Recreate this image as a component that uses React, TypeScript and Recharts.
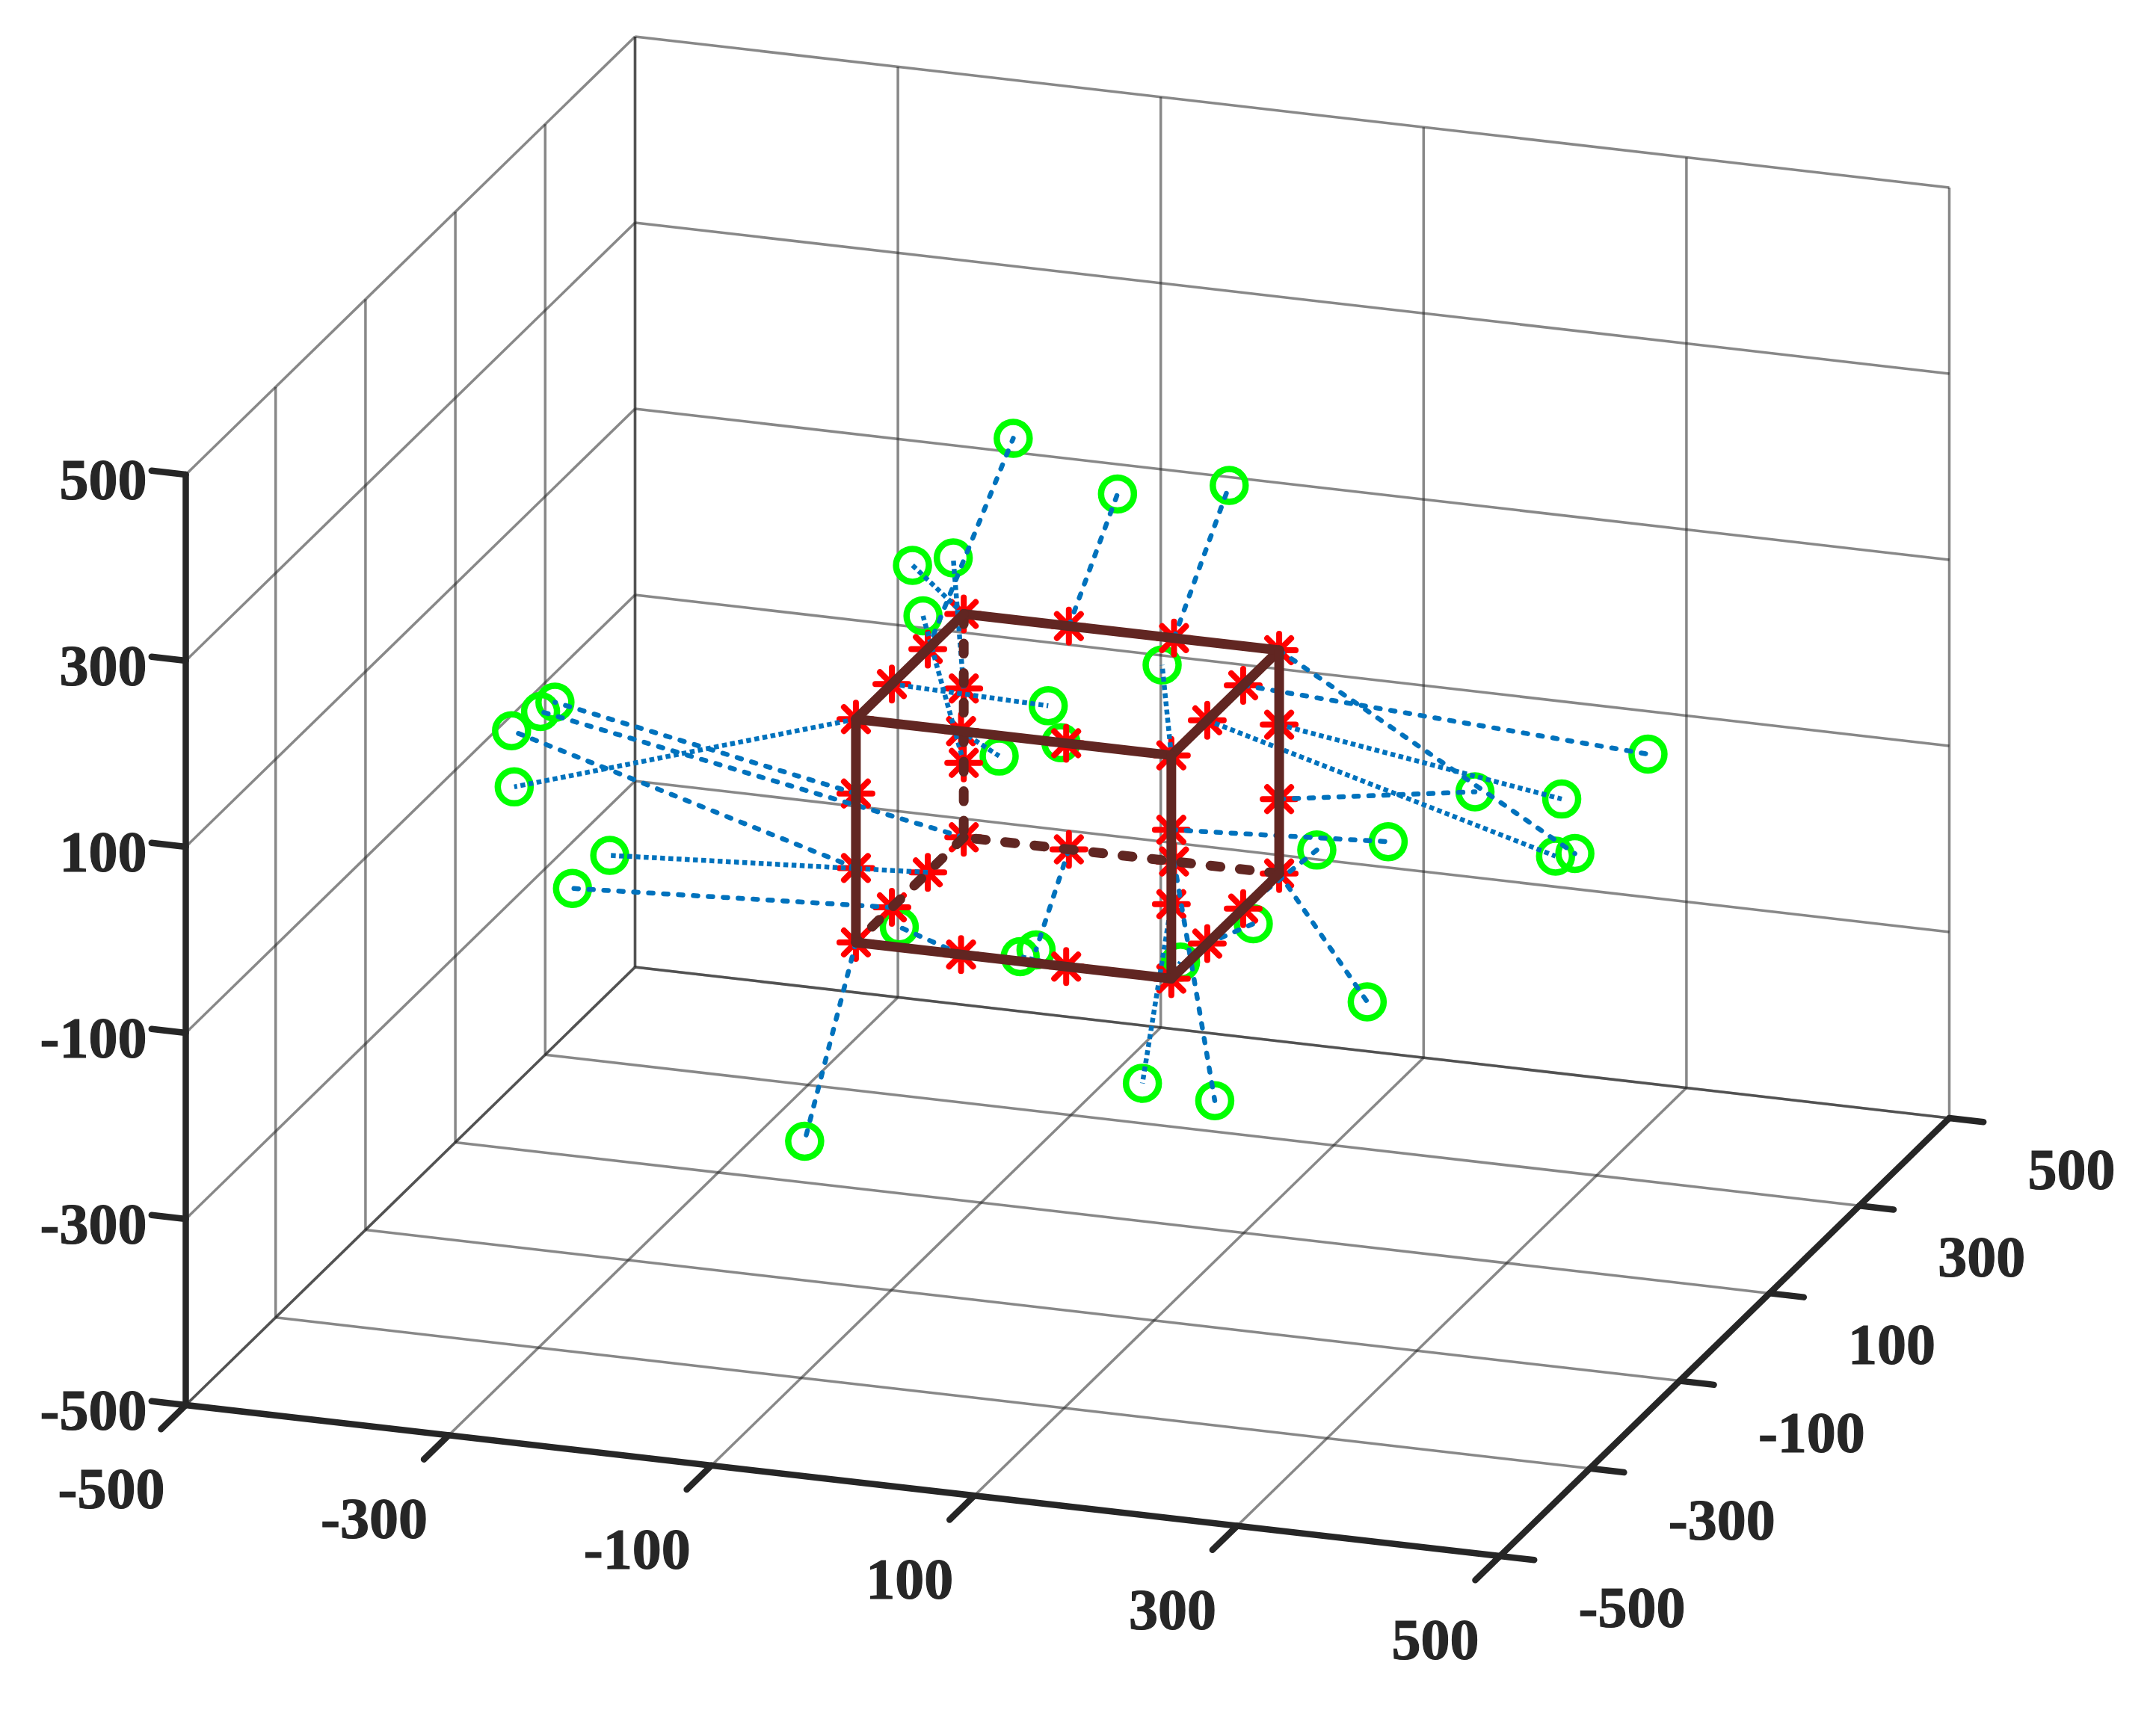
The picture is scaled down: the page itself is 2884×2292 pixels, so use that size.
import { Scatter, ScatterChart, XAxis, YAxis } from "recharts";

type P3 = [number, number, number];

const axisTicks = [-500, -300, -100, 100, 300, 500];

// red stars: points on the cube edges
const starPoints: P3[] = [
  [-120, 40, 120], [-40, 120, 120], [40, 120, 120], [-120, 120, 120],
  [-120, 120, 40], [-120, 120, -40], [-120, -40, 120], [-40, -120, 120],
  [40, -120, 120], [120, -120, 120], [120, 40, 120], [120, 120, 40],
  [120, -40, 120], [120, 120, 120], [120, 120, -40], [120, -120, 40],
  [120, 40, -120], [120, -40, -120], [120, 120, -120], [120, -120, -40],
  [40, 120, -120], [120, -120, -120], [-40, 120, -120], [40, -120, -120],
  [-40, -120, -120], [-120, -120, -40], [-120, 120, -120], [-120, -120, 40],
  [-120, -120, 120], [-120, 40, -120], [-120, -40, -120], [-120, -120, -120],
];

// green circles, same order as starPoints
const circlePoints: P3[] = [
  [-55, 40, 357], [-3, 120, 268], [82, 120, 291], [-159, 120, 166],
  [-128, 120, 179], [-151, 120, 113], [-1, -40, 116], [-11, -120, 98],
  [36, -120, 120], [113, -120, 216], [428, 40, 96], [335, 120, -5],
  [385, -40, 17], [345, 120, -62], [269, 120, -8], [285, -120, 54],
  [176, 40, -48], [155, -40, -93], [187, 120, -247], [98, -120, -236],
  [71, 120, -372], [127, -120, -101], [-65, 120, -232], [5, -120, -115],
  [-87, -120, -98], [-382, -120, 65], [-442, 120, -37], [-349, -120, 101],
  [-380, -120, 5], [-362, 40, -141], [-363, -40, -139], [-159, -120, -340],
];

// links drawn with the short dot pattern, the others are longer dashes
const fineLinks = [3, 4, 5, 6, 7, 9, 11, 12, 19, 21, 23, 28, 29];

const cubeSolid: [P3, P3][] = [
  [[-120, -120, 120], [120, -120, 120]],
  [[120, -120, 120], [120, 120, 120]],
  [[120, 120, 120], [-120, 120, 120]],
  [[-120, 120, 120], [-120, -120, 120]],
  [[-120, -120, -120], [-120, -120, 120]],
  [[120, -120, -120], [120, -120, 120]],
  [[120, 120, -120], [120, 120, 120]],
  [[-120, -120, -120], [120, -120, -120]],
  [[120, -120, -120], [120, 120, -120]],
];

// hidden edges, listed from the end where the dash pattern starts
const cubeDashed: [P3, P3][] = [
  [[-120, 120, 120], [-120, 120, -120]],
  [[120, 120, -120], [-120, 120, -120]],
  [[-120, 120, -120], [-120, -120, -120]],
];

const WIDTH = 2884;
const HEIGHT = 2292;
const INK = "#262626";
const BROWN = "#612622";
const BLUE = "#0072BD";
const GREEN = "#00FF00";
const RED = "#FF0000";

// fixed view of the 3d box on to the flat chart axes
const project = ([x, y, z]: P3) => ({
  sx: 1428 + 1.758 * x + 0.601 * y,
  sy: 1065.5 + 0.202 * x - 0.586 * y - 1.245 * z,
});

const segment = (a: P3, b: P3) => [project(a), project(b)];

const gridSegments: [P3, P3][] = axisTicks.flatMap((t): [P3, P3][] => [
  [[-500, t, -500], [-500, t, 500]],
  [[-500, -500, t], [-500, 500, t]],
  [[t, 500, -500], [t, 500, 500]],
  [[-500, 500, t], [500, 500, t]],
  [[t, -500, -500], [t, 500, -500]],
  [[-500, t, -500], [500, t, -500]],
]);

const axisSegments: [P3, P3][] = [
  [[-500, -500, -500], [-500, -500, 500]],
  [[-500, -500, -500], [500, -500, -500]],
  [[500, -500, -500], [500, 500, -500]],
  ...axisTicks.map((t): [P3, P3] => [[t, -500, -500], [t, -555, -500]]),
  ...axisTicks.map((t): [P3, P3] => [[500, t, -500], [526, t, -500]]),
  ...axisTicks.map((t): [P3, P3] => [[-500, -500, t], [-526, -500, t]]),
];

const xLabels = axisTicks.map((t) => ({ ...project([t, -500, -500]), label: String(t) }));
const yLabels = axisTicks.map((t) => ({ ...project([500, t, -500]), label: String(t) }));
const zLabels = axisTicks.map((t) => ({ ...project([-500, -500, t]), label: String(t) }));

const Star = ({ cx, cy }: any) => {
  const r = 22;
  const d = 16;
  return (
    <path
      d={`M${cx - r} ${cy}H${cx + r}M${cx} ${cy - r}V${cy + r}M${cx - d} ${cy - d}L${cx + d} ${cy + d}M${cx - d} ${cy + d}L${cx + d} ${cy - d}`}
      stroke={RED}
      strokeWidth={8}
      strokeLinecap="round"
      fill="none"
    />
  );
};

const Ring = ({ cx, cy }: any) => (
  <circle cx={cx} cy={cy} r={22} fill="none" stroke={GREEN} strokeWidth={8.5} />
);

const noMark = () => <g />;

const tickText = (dx: number, dy: number, anchor: "start" | "end") => (props: any) => (
  <text
    x={props.cx + dx}
    y={props.cy + dy}
    textAnchor={anchor}
    fontFamily="Liberation Serif"
    fontWeight="bold"
    fontSize={78}
    fill={INK}
    stroke={INK}
    strokeWidth={1.2}
  >
    {props.payload.label}
  </text>
);

const segmentSeries = (list: [P3, P3][], key: string, line: object) =>
  list.map(([a, b], i) => (
    <Scatter
      key={`${key}${i}`}
      data={segment(a, b)}
      line={line}
      shape={noMark}
      isAnimationActive={false}
    />
  ));

export default function App() {
  return (
    <div style={{ position: "absolute", left: 0, top: 0, width: WIDTH, height: HEIGHT, background: "#fff" }}>
      <ScatterChart width={WIDTH} height={HEIGHT} margin={{ top: 0, right: 0, bottom: 0, left: 0 }}>
        <XAxis type="number" dataKey="sx" domain={[0, WIDTH]} hide />
        <YAxis type="number" dataKey="sy" domain={[0, HEIGHT]} reversed hide />

        {segmentSeries(gridSegments, "grid", { stroke: INK, strokeOpacity: 0.55, strokeWidth: 3.5 })}
        {segmentSeries(axisSegments, "axis", { stroke: INK, strokeWidth: 8.5, strokeLinecap: "round" })}

        <Scatter data={circlePoints.map(project)} shape={Ring} isAnimationActive={false} />
        <Scatter data={starPoints.map(project)} shape={Star} isAnimationActive={false} />

        {starPoints.map((p, i) => {
          const fine = fineLinks.includes(i);
          return (
            <Scatter
              key={`link${i}`}
              data={segment(p, circlePoints[i])}
              line={{
                stroke: BLUE,
                strokeWidth: 6.5,
                strokeDasharray: fine ? "6.5 4.5" : "6 14",
                strokeLinecap: fine ? "butt" : "round",
              }}
              shape={noMark}
              isAnimationActive={false}
            />
          );
        })}

        {segmentSeries(cubeDashed, "back", {
          stroke: BROWN,
          strokeWidth: 13,
          strokeDasharray: "13.5 26",
          strokeLinecap: "round",
        })}
        {segmentSeries(cubeSolid, "edge", { stroke: BROWN, strokeWidth: 13, strokeLinecap: "round" })}

        <Scatter data={xLabels} shape={tickText(-28, 138, "end")} isAnimationActive={false} />
        <Scatter data={yLabels} shape={tickText(105, 95, "start")} isAnimationActive={false} />
        <Scatter data={zLabels} shape={tickText(-52, 33, "end")} isAnimationActive={false} />
      </ScatterChart>
    </div>
  );
}
